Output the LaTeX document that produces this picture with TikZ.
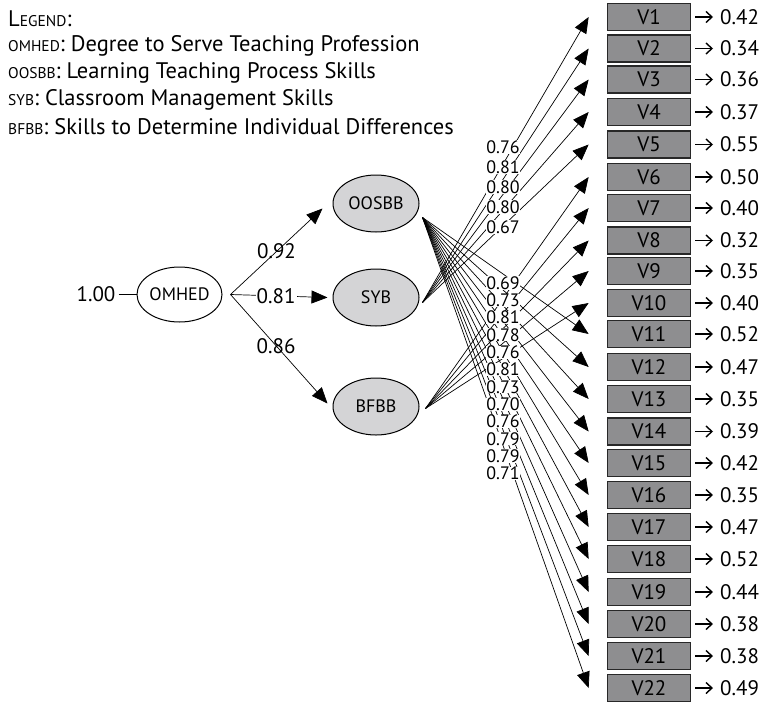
\documentclass[tikz,border=0pt]{standalone}
\usepackage{fontspec}
\setmainfont{PT Sans}
\usetikzlibrary{arrows.meta,positioning,shapes.geometric}

\definecolor{boxgray}{RGB}{142,142,144}
\definecolor{latgray}{RGB}{212,212,214}
\definecolor{boxline}{RGB}{40,40,40}

\newcommand{\legsc}[1]{{\fontsize{15.5}{15.5}\selectfont #1}}

\tikzset{
	legend/.style={anchor=west, inner sep=0pt, font=\fontsize{22.5}{22.5}\selectfont},
	latent/.style={ellipse, draw, line width=1pt, fill=latgray, minimum width=86pt, minimum height=57pt, inner sep=0pt, font=\fontsize{18}{18}\selectfont},
	vbox/.style={rectangle, draw=boxline, line width=1.7pt, fill=boxgray, minimum width=83pt, minimum height=27pt, inner sep=0pt, font=\fontsize{21}{21}\selectfont},
	resid/.style={anchor=west, inner sep=0pt, font=\fontsize{21}{21}\selectfont},
	resarrow/.style={-{Straight Barb[length=6pt,width=11pt]}, line width=1.4pt, shorten <=4pt, shorten >=7pt},
	load/.style={-{Triangle[length=16pt,width=13pt]}, line width=0.7pt},
	coef/.style={fill=white, inner sep=0pt, font=\fontsize{18}{18}\selectfont},
	pathlab/.style={fill=white, inner sep=1pt, font=\fontsize{21}{21}\selectfont}
}

\begin{document}
\begin{tikzpicture}[x=1pt, y=-1pt]
		\useasboundingbox (0,0) rectangle (760,702);

		% Legend
		\node[legend] (leg0) at (8,19) {L\legsc{EGEND}:};
		\node[legend] (leg1) at (8,46) {\legsc{OMHED}: Degree to Serve Teaching Profession};
		\node[legend] (leg2) at (8,73) {\legsc{OOSBB}: Learning Teaching Process Skills};
		\node[legend] (leg3) at (8,100) {\legsc{SYB}: Classroom Management Skills};
		\node[legend] (leg4) at (8,127) {\legsc{BFBB}: Skills to Determine Individual Differences};

		% Latent variables
		\node[latent, fill=white, minimum width=85pt, minimum height=55pt] (omhed) at (179.5,294.5) {OMHED};
		\node[latent] (oosbb) at (376,203.5) {OOSBB};
		\node[latent] (syb) at (376,297.5) {SYB};
		\node[latent] (bfbb) at (376,406.5) {BFBB};

		\node[pathlab, inner sep=3pt] (one) at (96,294.5) {1.00};
		\draw[line width=1pt] (one) -- (omhed);

		\coordinate (omh-o) at ([xshift=8]omhed.east);
		\coordinate (oos-in) at ([shift={(-10,5)}]oosbb.west);
		\coordinate (syb-in) at ([xshift=-5]syb.west);
		\coordinate (bfb-in) at ([shift={(-5,-3)}]bfbb.west);

		\draw[load] (omh-o) -- (oos-in) node[pathlab, fill=none, pos=0.5] (p1) {0.92};
		\draw[load] (omh-o) -- (syb-in) node[pathlab, pos=0.47] (p2) {0.81};
		\draw[load] (omh-o) -- (bfb-in) node[pathlab, fill=none, pos=0.47] (p3) {0.86};

		% Observed variables and their errors
		\node[vbox] (v1) at (649,17) {V1};   \node[resid] (e1) at (720,17) {0.42};   \draw[resarrow] (v1) -- (e1);
		\node[vbox] (v2) at (649,48.5) {V2}; \node[resid] (e2) at (720,48.5) {0.34}; \draw[resarrow] (v2) -- (e2);
		\node[vbox] (v3) at (649,79.5) {V3}; \node[resid] (e3) at (720,79.5) {0.36}; \draw[resarrow] (v3) -- (e3);
		\node[vbox] (v4) at (649,112) {V4};  \node[resid] (e4) at (720,112) {0.37};  \draw[resarrow] (v4) -- (e4);
		\node[vbox] (v5) at (649,144.5) {V5}; \node[resid] (e5) at (720,144.5) {0.55}; \draw[resarrow] (v5) -- (e5);
		\node[vbox] (v6) at (649,177) {V6};  \node[resid] (e6) at (720,177) {0.50};  \draw[resarrow] (v6) -- (e6);
		\node[vbox] (v7) at (649,208) {V7};  \node[resid] (e7) at (720,208) {0.40};  \draw[resarrow] (v7) -- (e7);
		\node[vbox] (v8) at (649,240.5) {V8}; \node[resid] (e8) at (720,240.5) {0.32}; \draw[resarrow] (v8) -- (e8);
		\node[vbox] (v9) at (649,271) {V9};  \node[resid] (e9) at (720,271) {0.35};  \draw[resarrow] (v9) -- (e9);
		\node[vbox] (v10) at (649,303) {V10}; \node[resid] (e10) at (720,303) {0.40}; \draw[resarrow] (v10) -- (e10);
		\node[vbox] (v11) at (649,334) {V11}; \node[resid] (e11) at (720,334) {0.52}; \draw[resarrow] (v11) -- (e11);
		\node[vbox] (v12) at (649,367) {V12}; \node[resid] (e12) at (720,367) {0.47}; \draw[resarrow] (v12) -- (e12);
		\node[vbox] (v13) at (649,399) {V13}; \node[resid] (e13) at (720,399) {0.35}; \draw[resarrow] (v13) -- (e13);
		\node[vbox] (v14) at (649,431.5) {V14}; \node[resid] (e14) at (720,431.5) {0.39}; \draw[resarrow] (v14) -- (e14);
		\node[vbox] (v15) at (649,463) {V15}; \node[resid] (e15) at (720,463) {0.42}; \draw[resarrow] (v15) -- (e15);
		\node[vbox] (v16) at (649,495) {V16}; \node[resid] (e16) at (720,495) {0.35}; \draw[resarrow] (v16) -- (e16);
		\node[vbox] (v17) at (649,527) {V17}; \node[resid] (e17) at (720,527) {0.47}; \draw[resarrow] (v17) -- (e17);
		\node[vbox] (v18) at (649,559) {V18}; \node[resid] (e18) at (720,559) {0.52}; \draw[resarrow] (v18) -- (e18);
		\node[vbox] (v19) at (649,592) {V19}; \node[resid] (e19) at (720,592) {0.44}; \draw[resarrow] (v19) -- (e19);
		\node[vbox] (v20) at (649,624) {V20}; \node[resid] (e20) at (720,624) {0.38}; \draw[resarrow] (v20) -- (e20);
		\node[vbox] (v21) at (649,656) {V21}; \node[resid] (e21) at (720,656) {0.38}; \draw[resarrow] (v21) -- (e21);
		\node[vbox] (v22) at (649,688) {V22}; \node[resid] (e22) at (720,688) {0.49}; \draw[resarrow] (v22) -- (e22);

		% Arrow tips in front of the boxes
		\coordinate (t1) at ([xshift=-18]v1.west);   \coordinate (t2) at ([xshift=-18]v2.west);
		\coordinate (t3) at ([xshift=-18]v3.west);   \coordinate (t4) at ([xshift=-18]v4.west);
		\coordinate (t5) at ([xshift=-18]v5.west);   \coordinate (t6) at ([xshift=-18]v6.west);
		\coordinate (t7) at ([xshift=-18]v7.west);   \coordinate (t8) at ([xshift=-18]v8.west);
		\coordinate (t9) at ([xshift=-18]v9.west);   \coordinate (t10) at ([xshift=-18]v10.west);
		\coordinate (t11) at ([xshift=-18]v11.west); \coordinate (t12) at ([xshift=-18]v12.west);
		\coordinate (t13) at ([xshift=-18]v13.west); \coordinate (t14) at ([xshift=-18]v14.west);
		\coordinate (t15) at ([xshift=-18]v15.west); \coordinate (t16) at ([xshift=-18]v16.west);
		\coordinate (t17) at ([xshift=-18]v17.west); \coordinate (t18) at ([xshift=-18]v18.west);
		\coordinate (t19) at ([xshift=-18]v19.west); \coordinate (t20) at ([xshift=-18]v20.west);
		\coordinate (t21) at ([xshift=-18]v21.west); \coordinate (t22) at ([xshift=-18]v22.west);

		% Draw the loadings
		\coordinate (oos-o) at ([shift={(3,14)}]oosbb.east);
		\coordinate (syb-o) at ([shift={(3,5)}]syb.east);
		\coordinate (bfb-o) at ([shift={(6,2)}]bfbb.east);

		\draw[load] (syb-o) -- (t1);  \draw[load] (syb-o) -- (t2);  \draw[load] (syb-o) -- (t3);
		\draw[load] (syb-o) -- (t4);  \draw[load] (syb-o) -- (t5);
		\draw[load] (bfb-o) -- (t6);  \draw[load] (bfb-o) -- (t7);  \draw[load] (bfb-o) -- (t8);
		\draw[load] (bfb-o) -- (t9);  \draw[load] (bfb-o) -- (t10);
		\draw[load] (oos-o) -- (t11); \draw[load] (oos-o) -- (t12); \draw[load] (oos-o) -- (t13);
		\draw[load] (oos-o) -- (t14); \draw[load] (oos-o) -- (t15); \draw[load] (oos-o) -- (t16);
		\draw[load] (oos-o) -- (t17); \draw[load] (oos-o) -- (t18); \draw[load] (oos-o) -- (t19);
		\draw[load] (oos-o) -- (t20); \draw[load] (oos-o) -- (t21); \draw[load] (oos-o) -- (t22);

		% Loading values
		\node[coef] (c1) at (503,147) {0.76};
		\node[coef] (c2) at (503,167) {0.81};
		\node[coef] (c3) at (503,187) {0.80};
		\node[coef] (c4) at (503,207) {0.80};
		\node[coef] (c5) at (503,227) {0.67};
		\node[coef] (c6) at (503,283) {0.69};
		\node[coef] (c7) at (503,300.3) {0.73};
		\node[coef] (c8) at (503,317.6) {0.81};
		\node[coef] (c9) at (503,334.9) {0.78};
		\node[coef] (c10) at (503,352.2) {0.76};
		\node[coef] (c11) at (503,369.5) {0.81};
		\node[coef] (c12) at (503,386.8) {0.73};
		\node[coef] (c13) at (503,404.1) {0.70};
		\node[coef] (c14) at (503,421.4) {0.76};
		\node[coef] (c15) at (503,438.7) {0.79};
		\node[coef] (c16) at (503,456) {0.79};
		\node[coef] (c17) at (503,473.3) {0.71};

	\end{tikzpicture}
\end{document}
